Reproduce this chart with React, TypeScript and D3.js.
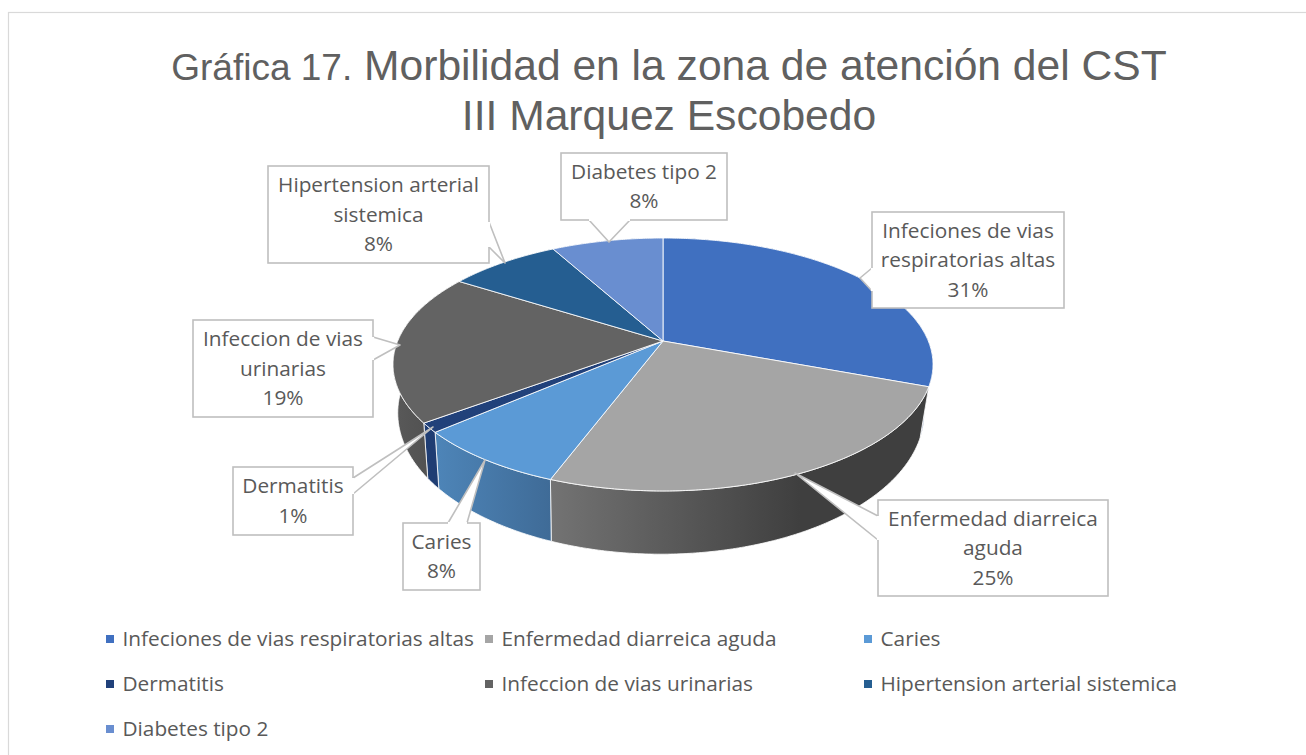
import React from "react";
import * as d3 from "d3";

const categories = [
  "Infeciones de vias respiratorias altas",
  "Enfermedad diarreica aguda",
  "Caries",
  "Dermatitis",
  "Infeccion de vias urinarias",
  "Hipertension arterial sistemica",
  "Diabetes tipo 2",
];
const values = [30.7, 25, 7.9, 1.2, 19.2, 8, 8];
const colors = ["#4070c0", "#a5a5a5", "#5b9ad6", "#21417a", "#636363", "#255e91", "#698ed0"];
const wallLeft = ["#2c4f86", "#737373", "#4d84b7", "#1f3d73", "#585858", "#1d4a72", "#4c6c9e"];
const wallRight = ["#2c4f86", "#3f3f3f", "#3f6b97", "#1f3d73", "#4a4a4a", "#1d4a72", "#4c6c9e"];
const titleLead = "Gráfica 17.";
const titleRest = " Morbilidad en la zona de atención del CST";
const titleLine2 = "III Marquez Escobedo";

// Callout annotation geometry: box, tail attachment points and tip, and text lines.
const callouts = [
  { i: 0, box: [872, 212, 1064, 308], tail: [[872, 268], [860, 278], [872, 291]], lines: ["Infeciones de vias", "respiratorias altas"] },
  { i: 1, box: [878, 500, 1108, 596], tail: [[878, 516], [795, 473], [878, 540]], lines: ["Enfermedad diarreica", "aguda"] },
  { i: 2, box: [403, 523, 480, 590], tail: [[448, 523], [485, 460], [467, 523]], lines: ["Caries"] },
  { i: 3, box: [233, 467, 353, 535], tail: [[353, 478], [433, 427], [353, 494]], lines: ["Dermatitis"] },
  { i: 4, box: [193, 320, 373, 417], tail: [[373, 337], [400, 345], [373, 360]], lines: ["Infeccion de vias", "urinarias"] },
  { i: 5, box: [268, 166, 489, 263], tail: [[489, 222], [505, 263], [489, 247]], lines: ["Hipertension arterial", "sistemica"] },
  { i: 6, box: [561, 153, 727, 220], tail: [[589, 220], [609, 242], [630, 220]], lines: ["Diabetes tipo 2"] },
];
const legendRows = [639, 684, 729];
const legendCols = [106, 485, 864];

const cx = 663, cy = 341, R = 265.3, B = 122.1, K = 0.1857, DEPTH = 45.7, WALL_X = 0.975, WALL_SHIFT = -2, WALL_Y = 1.117;
const FONT = "'Open Sans', 'Noto Sans', sans-serif";
const TEXT = "#595959";
const TITLE = "#606060";

const project = (a: number): [number, number] => {
  const u = Math.sin(a), v = -Math.cos(a), w = 1 - K * v;
  return [cx + (R * u) / w, cy + (B * v) / w];
};
const lower = ([x, y]: [number, number]): [number, number] => [
  cx + WALL_SHIFT + (x - cx) * WALL_X,
  cy + (y - cy) * WALL_Y + DEPTH,
];

const arcs = d3.pie<number>().sort(null)(values);
const color = d3.scaleOrdinal<number, string>().domain(d3.range(values.length)).range(colors);
const line = d3.line();
const samples = (a0: number, a1: number) => {
  const n = Math.max(2, Math.ceil((a1 - a0) / 0.01));
  return d3.range(n + 1).map((k) => a0 + ((a1 - a0) * k) / n);
};

export default function App() {
  const pct = d3.format(".0f");
  const total = d3.sum(values);
  return (
    <svg width={1306} height={755} style={{ position: "absolute", left: 0, top: 0, background: "#fff" }}>
      <rect x={8.5} y={12.5} width={1400} height={800} fill="#fff" stroke="#d9d9d9" strokeWidth={1.2} />
      <text x={669} y={80} textAnchor="middle" fontFamily="'Liberation Sans', Arial, sans-serif" fontSize={42.6} fill={TITLE}>
        <tspan fontSize={37}>{titleLead}</tspan>
        <tspan>{titleRest}</tspan>
      </text>
      <text x={669} y={130} textAnchor="middle" fontFamily="'Liberation Sans', Arial, sans-serif" fontSize={42.6} fill={TITLE}>
        {titleLine2}
      </text>

      <defs>
        {arcs.map((d, i) => {
          const xs = samples(d.startAngle, d.endAngle).map((a) => lower(project(a))[0]);
          return (
            <linearGradient key={i} id={`wall${i}`} gradientUnits="userSpaceOnUse"
              x1={d3.min(xs)} x2={i === 1 ? 800 : d3.max(xs)} y1={0} y2={0}>
              <stop offset="0" stopColor={wallLeft[i]} />
              <stop offset="1" stopColor={wallRight[i]} />
            </linearGradient>
          );
        })}
      </defs>

      {arcs.map((d, i) => {
        const top = samples(d.startAngle, d.endAngle).map(project);
        const bottom = top.map(lower).reverse();
        return (
          <path key={i} d={line([...top, ...bottom])! + "Z"} fill={`url(#wall${i})`}
            stroke="#fff" strokeOpacity={0.8} strokeWidth={1} strokeLinejoin="round" />
        );
      })}
      {arcs.map((d, i) => {
        const rim = samples(d.startAngle, d.endAngle).map(project);
        return (
          <path key={i} d={line([[cx, cy], ...rim])! + "Z"} fill={color(i)}
            stroke="#fff" strokeOpacity={0.85} strokeWidth={1} strokeLinejoin="round" />
        );
      })}

      {callouts.map((c) => {
        const [x0, y0, x1, y1] = c.box;
        const lh = 29.5;
        const label = [...c.lines, `${pct((values[c.i] / total) * 100)}%`];
        const mid = (y0 + y1) / 2;
        const poly = (pts: number[][]) => line(pts as [number, number][])!;
        return (
          <g key={c.i}>
            <rect x={x0} y={y0} width={x1 - x0} height={y1 - y0} fill="#fff" stroke="#bfbfbf" strokeWidth={1.6} />
            <path d={poly(c.tail) + "Z"} fill="#fff" stroke="none" />
            <path d={poly(c.tail)} fill="none" stroke="#bfbfbf" strokeWidth={1.6} strokeLinejoin="round" />
            <line x1={c.tail[0][0]} y1={c.tail[0][1]} x2={c.tail[2][0]} y2={c.tail[2][1]} stroke="#fff" strokeWidth={2.2} />
            {label.map((t, k) => (
              <text key={k} x={(x0 + x1) / 2} y={mid + (k - (label.length - 1) / 2) * lh + 7}
                textAnchor="middle" fontFamily={FONT} fontSize={20.8} fill={TEXT}>{t}</text>
            ))}
          </g>
        );
      })}

      {categories.map((name, i) => {
        const x = legendCols[i % 3];
        const y = legendRows[Math.floor(i / 3)];
        return (
          <g key={name}>
            <rect x={x} y={y - 4} width={8} height={8} fill={color(i)} />
            <text x={x + 16.5} y={y + 7} fontFamily={FONT} fontSize={20.8} fill={TEXT}>{name}</text>
          </g>
        );
      })}
    </svg>
  );
}
